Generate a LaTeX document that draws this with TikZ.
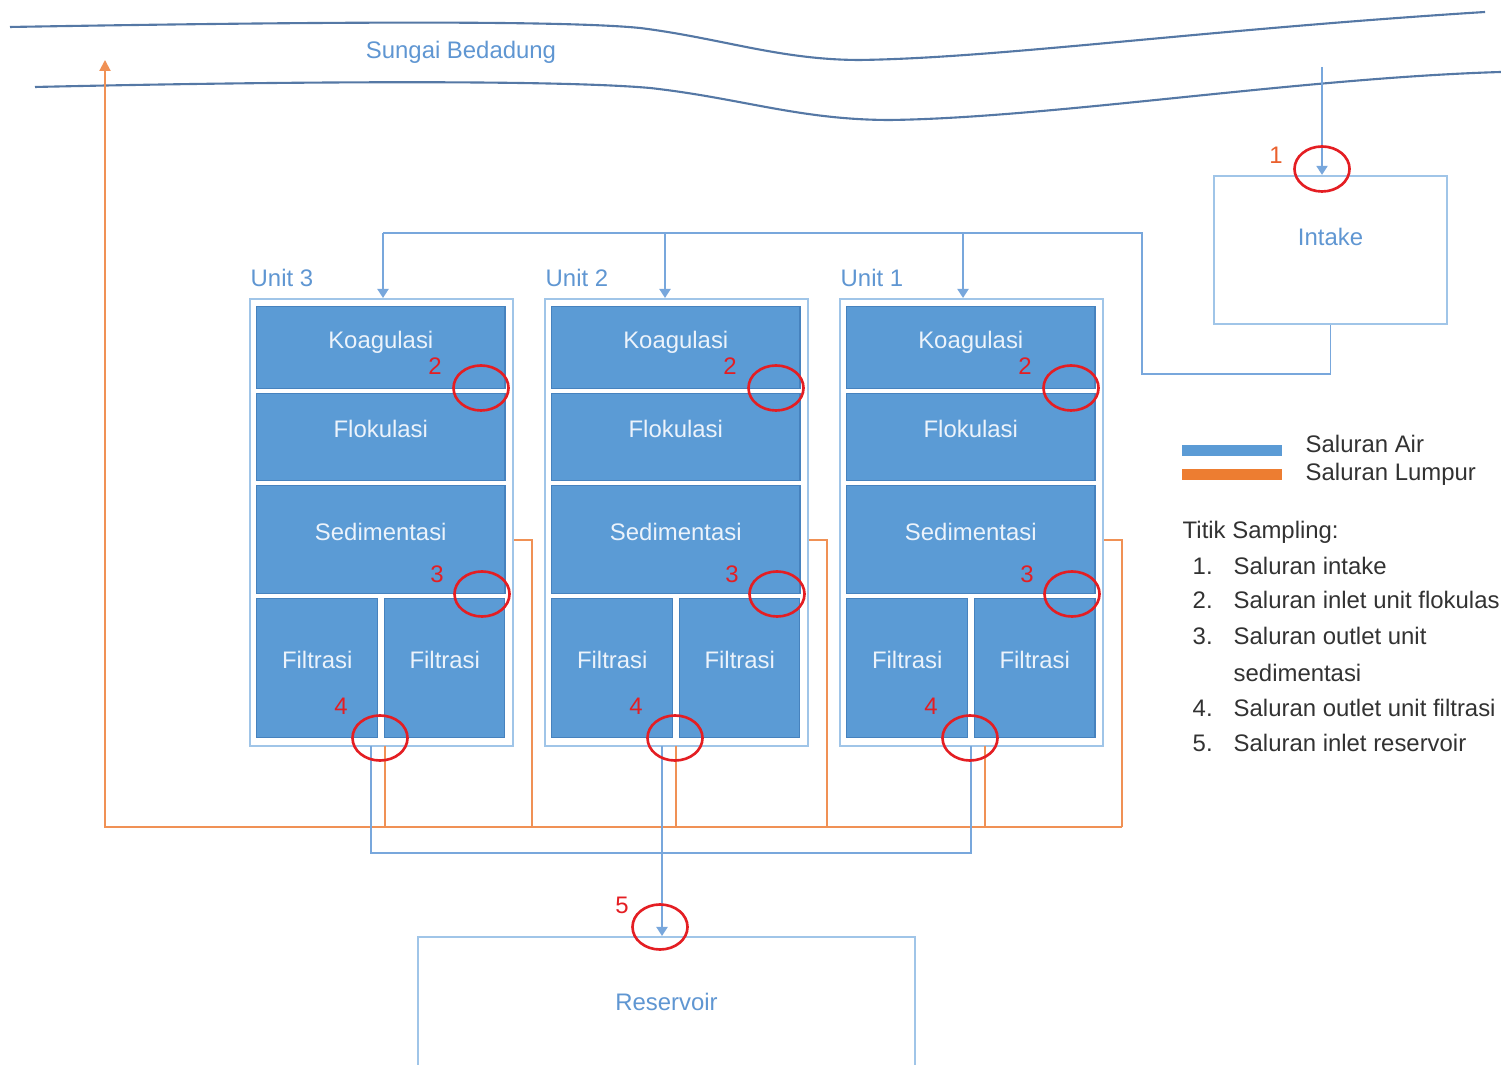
\documentclass[tikz,border=0pt]{standalone}
\usepackage{fontspec}
\setmainfont{Liberation Sans}
\usetikzlibrary{arrows.meta,shapes.geometric,positioning}

\definecolor{blockfill}{RGB}{91,155,213}
\definecolor{blockedge}{RGB}{70,130,190}
\definecolor{blocktext}{RGB}{236,243,251}
\definecolor{framecol}{RGB}{160,197,232}
\definecolor{pipeblue}{RGB}{120,167,220}
\definecolor{pipeorange}{RGB}{240,145,85}
\definecolor{barorange}{RGB}{237,125,49}
\definecolor{rivercol}{RGB}{85,120,165}
\definecolor{textblue}{RGB}{95,150,210}
\definecolor{samplered}{RGB}{228,30,35}
\definecolor{legendtext}{RGB}{50,50,50}

\tikzstyle{frame} = [rectangle, draw=framecol, line width=0.6pt, inner sep=0pt, anchor=north west, minimum width=2.63cm, minimum height=4.47cm]
\tikzstyle{block} = [rectangle, draw=blockedge, fill=blockfill, text=blocktext, inner sep=0pt, anchor=north west, text height=0.18cm, text depth=0.17cm]
\tikzstyle{tank} = [rectangle, draw=framecol, line width=0.6pt, text=textblue, inner sep=0pt, text height=0.18cm]
\tikzstyle{sample} = [ellipse, draw=samplered, line width=0.75pt, inner sep=0pt, minimum width=0.55cm, minimum height=0.45cm]
\tikzstyle{num} = [text=samplered, inner sep=0pt]
\tikzstyle{unitlbl} = [text=textblue, inner sep=0pt, anchor=west]
\tikzstyle{legend} = [text=legendtext, inner sep=0pt, anchor=west, text height=0.18cm, text depth=0.04cm]
\tikzstyle{water} = [draw=pipeblue, line width=0.55pt]
\tikzstyle{sludge} = [draw=pipeorange, line width=0.55pt]
\tikzstyle{river} = [draw=rivercol, line width=0.6pt]
\tikzstyle{flowtip} = [-{Triangle[length=0.09cm,width=0.11cm]}]

\begin{document}
\begin{tikzpicture}[x=0.01cm, y=-0.01cm, font=\fontsize{6.8}{8}\selectfont]
	\useasboundingbox (0,0) rectangle (1501,1065);
	\fill[white] (0,0) rectangle (1501,1065);
	\clip (0,0) rectangle (1501,1065);

	% river
	\draw[river] (10,27) .. controls (300,22) and (560,20) .. (640,28) .. controls (720,38) and (780,60) .. (860,60) .. controls (1000,58) and (1200,30) .. (1485,12);
	\draw[river] (35,87) .. controls (300,81) and (560,80) .. (650,88) .. controls (740,98) and (800,120) .. (890,120) .. controls (1050,118) and (1300,78) .. (1501,72);
	\node[text=textblue] (sungai) at (461,52) {Sungai Bedadung};

	% intake and reservoir
	\node[tank, minimum width=2.33cm, minimum height=1.48cm, text depth=0.26cm] (intake) at (1330.5,250) {Intake};
	\node[tank, minimum width=4.97cm, minimum height=2cm, anchor=north, text depth=0.72cm] (res) at (666.5,936) {Reservoir};

	\coordinate (riverin) at (1322,67);
	\coordinate (bend) at (1142,374);
	\coordinate (sludgebus) at (105,827);
	\coordinate (sludgeout) at (105,60);
	\coordinate (waterbus) at (0,853);

	% units
	\foreach \u/\dx/\tx/\bx/\ox in {3/0/383/371/385, 2/295/665/662/676, 1/590/963/971/985} {
		\node[frame] (u\u) at (249+\dx,298) {};
		\node[unitlbl] (ul\u) at (250+\dx,278) {Unit \u};
		\node[block, minimum width=2.48cm, minimum height=0.82cm] (k\u) at (256+\dx,306) {Koagulasi};
		\node[block, minimum width=2.48cm, minimum height=0.87cm] (f\u) at (256+\dx,393) {Flokulasi};
		\node[block, minimum width=2.48cm, minimum height=1.08cm] (s\u) at (256+\dx,485) {Sedimentasi};
		\node[block, minimum width=1.21cm, minimum height=1.39cm] (fa\u) at (256+\dx,598) {Filtrasi};
		\node[block, minimum width=1.20cm, minimum height=1.39cm] (fb\u) at (384+\dx,598) {Filtrasi};

		\coordinate (dist\u) at (\tx,233);
		\coordinate (fo\u) at (\bx,746);
		\coordinate (so\u) at (\ox,746);
		\draw[water, flowtip] (dist\u) -- (dist\u |- u\u.north);
		\draw[sludge] (so\u) -- (so\u |- sludgebus);
		\draw[sludge] (s\u.east -| u\u.east) -- ++(18,0) coordinate (sd\u) -- (sd\u |- sludgebus);
	}

	% pipes
	\draw[water, flowtip] (riverin) -- (riverin |- intake.north);
	\draw[water] (intake.south) |- (bend) |- (dist3);
	\draw[sludge, -{Triangle[length=0.11cm,width=0.11cm]}] (sd1 |- sludgebus) -- (sludgebus) -- (sludgeout);
	\draw[water] (fo3) -- (fo3 |- waterbus) -- (fo1 |- waterbus) -- (fo1);
	\draw[water, flowtip] (fo2) -- (fo2 |- res.north);

	% sampling points
	\foreach \dx [count=\i] in {0,295,590} {
		\node[sample] (p2\i) at (481+\dx,388) {};
		\node[num] (n2\i) at (435+\dx,366) {2};
		\node[sample] (p3\i) at (482+\dx,594) {};
		\node[num] (n3\i) at (437+\dx,574) {3};
		\node[sample] (p4\i) at (380+\dx,738) {};
		\node[num] (n4\i) at (341+\dx,706) {4};
	}
	\node[sample] (p1) at (1322,169) {};
	\node[num, text=barorange!70!samplered] (n1) at (1276,155) {1};
	\node[sample] (p5) at (660,927) {};
	\node[num] (n5) at (622,905) {5};

	% legend
	\fill[blockfill] (1182,445) rectangle (1282,456);
	\fill[barorange] (1182,469) rectangle (1282,480);
	\node[legend] (lair) at (1305,446) {Saluran Air};
	\node[legend] (llumpur) at (1305,474) {Saluran Lumpur};
	\node[legend] (ltitik) at (1182,532) {Titik Sampling:};
	\foreach \y/\n/\t in {567/1./Saluran intake, 602/2./Saluran inlet unit flokulasi, 637/3./Saluran outlet unit, 709/4./Saluran outlet unit filtrasi, 744/5./Saluran inlet reservoir} {
		\node[legend] (li\y) at (1192,\y) {\n};
		\node[legend] (lt\y) at (1233,\y) {\t};
	}
	\node[legend] (lt674) at (1233,674) {sedimentasi};
\end{tikzpicture}
\end{document}
